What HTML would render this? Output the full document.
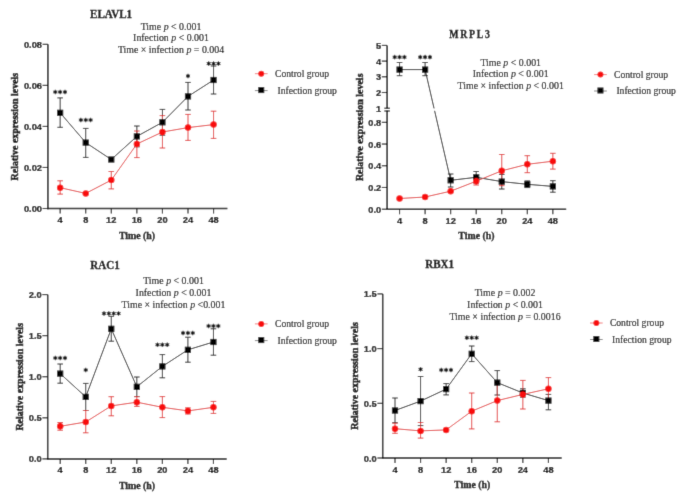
<!DOCTYPE html>
<html><head><meta charset="utf-8"><style>
html,body{margin:0;padding:0;background:#fff;}
svg{display:block;will-change:transform;}
</style></head><body>
<svg width="685" height="500" viewBox="0 0 685 500">
<defs><filter id="soft" x="0" y="0" width="685" height="500" filterUnits="userSpaceOnUse"><feConvolveMatrix order="3" kernelMatrix="0.011 0.084 0.011 0.084 0.62 0.084 0.011 0.084 0.011" divisor="1" edgeMode="duplicate" preserveAlpha="false"/></filter></defs>
<g filter="url(#soft)">
<rect width="685" height="500" fill="#fff"/>
<line x1="47.90" y1="44.30" x2="47.90" y2="209.25" stroke="#0a0a0a" stroke-width="1.5" />
<line x1="47.15" y1="208.50" x2="227.40" y2="208.50" stroke="#0a0a0a" stroke-width="1.5" />
<line x1="42.60" y1="208.50" x2="47.90" y2="208.50" stroke="#0a0a0a" stroke-width="1.1" />
<text transform="translate(42.00,212.00) scale(0.9490,1)" font-family="'Liberation Sans', sans-serif" font-size="9.8" font-weight="bold" text-anchor="end" fill="#000" stroke="#000" stroke-width="0.25">0.00</text>
<line x1="42.60" y1="167.45" x2="47.90" y2="167.45" stroke="#0a0a0a" stroke-width="1.1" />
<text transform="translate(42.00,170.95) scale(0.9490,1)" font-family="'Liberation Sans', sans-serif" font-size="9.8" font-weight="bold" text-anchor="end" fill="#000" stroke="#000" stroke-width="0.25">0.02</text>
<line x1="42.60" y1="126.40" x2="47.90" y2="126.40" stroke="#0a0a0a" stroke-width="1.1" />
<text transform="translate(42.00,129.90) scale(0.9490,1)" font-family="'Liberation Sans', sans-serif" font-size="9.8" font-weight="bold" text-anchor="end" fill="#000" stroke="#000" stroke-width="0.25">0.04</text>
<line x1="42.60" y1="85.35" x2="47.90" y2="85.35" stroke="#0a0a0a" stroke-width="1.1" />
<text transform="translate(42.00,88.85) scale(0.9490,1)" font-family="'Liberation Sans', sans-serif" font-size="9.8" font-weight="bold" text-anchor="end" fill="#000" stroke="#000" stroke-width="0.25">0.06</text>
<line x1="42.60" y1="44.30" x2="47.90" y2="44.30" stroke="#0a0a0a" stroke-width="1.1" />
<text transform="translate(42.00,47.80) scale(0.9490,1)" font-family="'Liberation Sans', sans-serif" font-size="9.8" font-weight="bold" text-anchor="end" fill="#000" stroke="#000" stroke-width="0.25">0.08</text>
<line x1="60.15" y1="208.50" x2="60.15" y2="213.50" stroke="#0a0a0a" stroke-width="1.1" />
<text transform="translate(60.15,223.00) scale(0.9490,1)" font-family="'Liberation Sans', sans-serif" font-size="9.8" font-weight="bold" text-anchor="middle" fill="#000" stroke="#000" stroke-width="0.25">4</text>
<line x1="85.72" y1="208.50" x2="85.72" y2="213.50" stroke="#0a0a0a" stroke-width="1.1" />
<text transform="translate(85.72,223.00) scale(0.9490,1)" font-family="'Liberation Sans', sans-serif" font-size="9.8" font-weight="bold" text-anchor="middle" fill="#000" stroke="#000" stroke-width="0.25">8</text>
<line x1="111.29" y1="208.50" x2="111.29" y2="213.50" stroke="#0a0a0a" stroke-width="1.1" />
<text transform="translate(111.29,223.00) scale(0.9490,1)" font-family="'Liberation Sans', sans-serif" font-size="9.8" font-weight="bold" text-anchor="middle" fill="#000" stroke="#000" stroke-width="0.25">12</text>
<line x1="136.86" y1="208.50" x2="136.86" y2="213.50" stroke="#0a0a0a" stroke-width="1.1" />
<text transform="translate(136.86,223.00) scale(0.9490,1)" font-family="'Liberation Sans', sans-serif" font-size="9.8" font-weight="bold" text-anchor="middle" fill="#000" stroke="#000" stroke-width="0.25">16</text>
<line x1="162.43" y1="208.50" x2="162.43" y2="213.50" stroke="#0a0a0a" stroke-width="1.1" />
<text transform="translate(162.43,223.00) scale(0.9490,1)" font-family="'Liberation Sans', sans-serif" font-size="9.8" font-weight="bold" text-anchor="middle" fill="#000" stroke="#000" stroke-width="0.25">20</text>
<line x1="188.00" y1="208.50" x2="188.00" y2="213.50" stroke="#0a0a0a" stroke-width="1.1" />
<text transform="translate(188.00,223.00) scale(0.9490,1)" font-family="'Liberation Sans', sans-serif" font-size="9.8" font-weight="bold" text-anchor="middle" fill="#000" stroke="#000" stroke-width="0.25">24</text>
<line x1="213.57" y1="208.50" x2="213.57" y2="213.50" stroke="#0a0a0a" stroke-width="1.1" />
<text transform="translate(213.57,223.00) scale(0.9490,1)" font-family="'Liberation Sans', sans-serif" font-size="9.8" font-weight="bold" text-anchor="middle" fill="#000" stroke="#000" stroke-width="0.25">48</text>
<text transform="translate(111.10,18.20) scale(0.8900,1.0000)" font-family="'Liberation Serif', serif" font-size="12.4" font-weight="bold" text-anchor="middle" fill="#000" stroke="#000" stroke-width="0.35" >ELAVL1</text>
<text transform="translate(171.00,29.70)" font-family="'Liberation Serif', serif" font-size="9.9" font-weight="normal" text-anchor="middle" fill="#000" stroke="#000" stroke-width="0.12" >Time <tspan font-style='italic'>p</tspan> &lt; 0.001</text>
<text transform="translate(171.00,40.70)" font-family="'Liberation Serif', serif" font-size="9.9" font-weight="normal" text-anchor="middle" fill="#000" stroke="#000" stroke-width="0.12" >Infection <tspan font-style='italic'>p</tspan> &lt; 0.001</text>
<text transform="translate(171.00,52.80)" font-family="'Liberation Serif', serif" font-size="9.9" font-weight="normal" text-anchor="middle" fill="#000" stroke="#000" stroke-width="0.12" >Time × infection <tspan font-style='italic'>p</tspan> = 0.004</text>
<text x="0" y="0" transform="translate(14.60,126.60) rotate(-90) scale(0.8980,1)" font-family="'Liberation Serif', serif" font-size="11.1" font-weight="bold" text-anchor="middle" dominant-baseline="central" fill="#000" stroke="#000" stroke-width="0.45">Relative expression levels</text>
<text transform="translate(137.00,238.80) scale(0.9650,1.0000)" font-family="'Liberation Serif', serif" font-size="10.2" font-weight="bold" text-anchor="middle" fill="#000" stroke="#000" stroke-width="0.3" >Time (h)</text>
<line x1="254.90" y1="73.70" x2="267.60" y2="73.70" stroke="#f07070" stroke-width="0.9" />
<circle cx="261.25" cy="73.70" r="3.0" fill="#f80a0a"/>
<text transform="translate(275.00,77.00)" font-family="'Liberation Serif', serif" font-size="9.6" font-weight="normal" text-anchor="start" fill="#000" stroke="#000" stroke-width="0.12" >Control group</text>
<line x1="254.90" y1="90.60" x2="267.60" y2="90.60" stroke="#777" stroke-width="0.9" />
<rect x="258.25" y="87.10" width="6.0" height="6.0" fill="#000"/>
<text transform="translate(277.50,93.90)" font-family="'Liberation Serif', serif" font-size="9.6" font-weight="normal" text-anchor="start" fill="#000" stroke="#000" stroke-width="0.12" >Infection group</text>
<line x1="60.15" y1="97.90" x2="60.15" y2="127.30" stroke="#2a2a2a" stroke-width="1.0" />
<line x1="57.35" y1="97.90" x2="62.95" y2="97.90" stroke="#2a2a2a" stroke-width="1.0" />
<line x1="57.35" y1="127.30" x2="62.95" y2="127.30" stroke="#2a2a2a" stroke-width="1.0" />
<line x1="85.72" y1="128.40" x2="85.72" y2="157.40" stroke="#2a2a2a" stroke-width="1.0" />
<line x1="82.92" y1="128.40" x2="88.52" y2="128.40" stroke="#2a2a2a" stroke-width="1.0" />
<line x1="82.92" y1="157.40" x2="88.52" y2="157.40" stroke="#2a2a2a" stroke-width="1.0" />
<line x1="136.86" y1="126.00" x2="136.86" y2="146.80" stroke="#2a2a2a" stroke-width="1.0" />
<line x1="134.06" y1="126.00" x2="139.66" y2="126.00" stroke="#2a2a2a" stroke-width="1.0" />
<line x1="134.06" y1="146.80" x2="139.66" y2="146.80" stroke="#2a2a2a" stroke-width="1.0" />
<line x1="162.43" y1="109.40" x2="162.43" y2="135.20" stroke="#2a2a2a" stroke-width="1.0" />
<line x1="159.63" y1="109.40" x2="165.23" y2="109.40" stroke="#2a2a2a" stroke-width="1.0" />
<line x1="159.63" y1="135.20" x2="165.23" y2="135.20" stroke="#2a2a2a" stroke-width="1.0" />
<line x1="188.00" y1="82.40" x2="188.00" y2="110.00" stroke="#2a2a2a" stroke-width="1.0" />
<line x1="185.20" y1="82.40" x2="190.80" y2="82.40" stroke="#2a2a2a" stroke-width="1.0" />
<line x1="185.20" y1="110.00" x2="190.80" y2="110.00" stroke="#2a2a2a" stroke-width="1.0" />
<line x1="213.57" y1="66.00" x2="213.57" y2="94.00" stroke="#2a2a2a" stroke-width="1.0" />
<line x1="210.77" y1="66.00" x2="216.37" y2="66.00" stroke="#2a2a2a" stroke-width="1.0" />
<line x1="210.77" y1="94.00" x2="216.37" y2="94.00" stroke="#2a2a2a" stroke-width="1.0" />
<polyline points="60.15,112.80 85.72,142.60 111.29,159.50 136.86,136.40 162.43,122.30 188.00,96.40 213.57,80.00" fill="none" stroke="#222" stroke-width="1.0"/>
<line x1="60.15" y1="180.80" x2="60.15" y2="194.10" stroke="#e02c2c" stroke-width="0.9" />
<line x1="57.35" y1="180.80" x2="62.95" y2="180.80" stroke="#e02c2c" stroke-width="0.9" />
<line x1="57.35" y1="194.10" x2="62.95" y2="194.10" stroke="#e02c2c" stroke-width="0.9" />
<line x1="111.29" y1="171.50" x2="111.29" y2="188.90" stroke="#e02c2c" stroke-width="0.9" />
<line x1="108.49" y1="171.50" x2="114.09" y2="171.50" stroke="#e02c2c" stroke-width="0.9" />
<line x1="108.49" y1="188.90" x2="114.09" y2="188.90" stroke="#e02c2c" stroke-width="0.9" />
<line x1="136.86" y1="131.00" x2="136.86" y2="157.60" stroke="#e02c2c" stroke-width="0.9" />
<line x1="134.06" y1="131.00" x2="139.66" y2="131.00" stroke="#e02c2c" stroke-width="0.9" />
<line x1="134.06" y1="157.60" x2="139.66" y2="157.60" stroke="#e02c2c" stroke-width="0.9" />
<line x1="162.43" y1="115.60" x2="162.43" y2="148.00" stroke="#e02c2c" stroke-width="0.9" />
<line x1="159.63" y1="115.60" x2="165.23" y2="115.60" stroke="#e02c2c" stroke-width="0.9" />
<line x1="159.63" y1="148.00" x2="165.23" y2="148.00" stroke="#e02c2c" stroke-width="0.9" />
<line x1="188.00" y1="114.40" x2="188.00" y2="140.40" stroke="#e02c2c" stroke-width="0.9" />
<line x1="185.20" y1="114.40" x2="190.80" y2="114.40" stroke="#e02c2c" stroke-width="0.9" />
<line x1="185.20" y1="140.40" x2="190.80" y2="140.40" stroke="#e02c2c" stroke-width="0.9" />
<line x1="213.57" y1="111.20" x2="213.57" y2="138.40" stroke="#e02c2c" stroke-width="0.9" />
<line x1="210.77" y1="111.20" x2="216.37" y2="111.20" stroke="#e02c2c" stroke-width="0.9" />
<line x1="210.77" y1="138.40" x2="216.37" y2="138.40" stroke="#e02c2c" stroke-width="0.9" />
<polyline points="60.15,187.70 85.72,193.40 111.29,180.10 136.86,144.00 162.43,132.00 188.00,127.60 213.57,124.60" fill="none" stroke="#e02c2c" stroke-width="0.9"/>
<rect x="57.05" y="109.70" width="6.2" height="6.2" fill="#000"/>
<rect x="82.62" y="139.50" width="6.2" height="6.2" fill="#000"/>
<rect x="108.19" y="156.40" width="6.2" height="6.2" fill="#000"/>
<rect x="133.76" y="133.30" width="6.2" height="6.2" fill="#000"/>
<rect x="159.33" y="119.20" width="6.2" height="6.2" fill="#000"/>
<rect x="184.90" y="93.30" width="6.2" height="6.2" fill="#000"/>
<rect x="210.47" y="76.90" width="6.2" height="6.2" fill="#000"/>
<circle cx="60.15" cy="187.70" r="3.25" fill="#f80a0a"/>
<circle cx="85.72" cy="193.40" r="3.25" fill="#f80a0a"/>
<circle cx="111.29" cy="180.10" r="3.25" fill="#f80a0a"/>
<circle cx="136.86" cy="144.00" r="3.25" fill="#f80a0a"/>
<circle cx="162.43" cy="132.00" r="3.25" fill="#f80a0a"/>
<circle cx="188.00" cy="127.60" r="3.25" fill="#f80a0a"/>
<circle cx="213.57" cy="124.60" r="3.25" fill="#f80a0a"/>
<polygon points="55.30,89.75 55.90,90.96 57.25,90.88 56.50,92.00 57.25,93.12 55.90,93.04 55.30,94.25 54.70,93.04 53.35,93.12 54.10,92.00 53.35,90.88 54.70,90.96" fill="#111" stroke="#111" stroke-width="0.5" stroke-linejoin="round"/>
<polygon points="60.15,89.75 60.75,90.96 62.10,90.88 61.35,92.00 62.10,93.12 60.75,93.04 60.15,94.25 59.55,93.04 58.20,93.12 58.95,92.00 58.20,90.88 59.55,90.96" fill="#111" stroke="#111" stroke-width="0.5" stroke-linejoin="round"/>
<polygon points="65.00,89.75 65.60,90.96 66.95,90.88 66.20,92.00 66.95,93.12 65.60,93.04 65.00,94.25 64.40,93.04 63.05,93.12 63.80,92.00 63.05,90.88 64.40,90.96" fill="#111" stroke="#111" stroke-width="0.5" stroke-linejoin="round"/>
<polygon points="80.87,117.75 81.47,118.96 82.82,118.88 82.07,120.00 82.82,121.12 81.47,121.04 80.87,122.25 80.27,121.04 78.92,121.12 79.67,120.00 78.92,118.88 80.27,118.96" fill="#111" stroke="#111" stroke-width="0.5" stroke-linejoin="round"/>
<polygon points="85.72,117.75 86.32,118.96 87.67,118.88 86.92,120.00 87.67,121.12 86.32,121.04 85.72,122.25 85.12,121.04 83.77,121.12 84.52,120.00 83.77,118.88 85.12,118.96" fill="#111" stroke="#111" stroke-width="0.5" stroke-linejoin="round"/>
<polygon points="90.57,117.75 91.17,118.96 92.52,118.88 91.77,120.00 92.52,121.12 91.17,121.04 90.57,122.25 89.97,121.04 88.62,121.12 89.37,120.00 88.62,118.88 89.97,118.96" fill="#111" stroke="#111" stroke-width="0.5" stroke-linejoin="round"/>
<polygon points="188.00,73.75 188.60,74.96 189.95,74.88 189.20,76.00 189.95,77.12 188.60,77.04 188.00,78.25 187.40,77.04 186.05,77.12 186.80,76.00 186.05,74.88 187.40,74.96" fill="#111" stroke="#111" stroke-width="0.5" stroke-linejoin="round"/>
<polygon points="208.72,61.35 209.32,62.56 210.67,62.48 209.92,63.60 210.67,64.72 209.32,64.64 208.72,65.85 208.12,64.64 206.77,64.72 207.52,63.60 206.77,62.48 208.12,62.56" fill="#111" stroke="#111" stroke-width="0.5" stroke-linejoin="round"/>
<polygon points="213.57,61.35 214.17,62.56 215.52,62.48 214.77,63.60 215.52,64.72 214.17,64.64 213.57,65.85 212.97,64.64 211.62,64.72 212.37,63.60 211.62,62.48 212.97,62.56" fill="#111" stroke="#111" stroke-width="0.5" stroke-linejoin="round"/>
<polygon points="218.42,61.35 219.02,62.56 220.37,62.48 219.62,63.60 220.37,64.72 219.02,64.64 218.42,65.85 217.82,64.64 216.47,64.72 217.22,63.60 216.47,62.48 217.82,62.56" fill="#111" stroke="#111" stroke-width="0.5" stroke-linejoin="round"/>
<line x1="387.10" y1="45.40" x2="387.10" y2="209.95" stroke="#0a0a0a" stroke-width="1.5" />
<line x1="386.35" y1="209.20" x2="566.20" y2="209.20" stroke="#0a0a0a" stroke-width="1.5" />
<line x1="381.80" y1="209.20" x2="387.10" y2="209.20" stroke="#0a0a0a" stroke-width="1.1" />
<text transform="translate(381.20,212.70) scale(0.9490,1)" font-family="'Liberation Sans', sans-serif" font-size="9.8" font-weight="bold" text-anchor="end" fill="#000" stroke="#000" stroke-width="0.25">0.0</text>
<line x1="381.80" y1="187.48" x2="387.10" y2="187.48" stroke="#0a0a0a" stroke-width="1.1" />
<text transform="translate(381.20,190.98) scale(0.9490,1)" font-family="'Liberation Sans', sans-serif" font-size="9.8" font-weight="bold" text-anchor="end" fill="#000" stroke="#000" stroke-width="0.25">0.2</text>
<line x1="381.80" y1="165.76" x2="387.10" y2="165.76" stroke="#0a0a0a" stroke-width="1.1" />
<text transform="translate(381.20,169.26) scale(0.9490,1)" font-family="'Liberation Sans', sans-serif" font-size="9.8" font-weight="bold" text-anchor="end" fill="#000" stroke="#000" stroke-width="0.25">0.4</text>
<line x1="381.80" y1="144.04" x2="387.10" y2="144.04" stroke="#0a0a0a" stroke-width="1.1" />
<text transform="translate(381.20,147.54) scale(0.9490,1)" font-family="'Liberation Sans', sans-serif" font-size="9.8" font-weight="bold" text-anchor="end" fill="#000" stroke="#000" stroke-width="0.25">0.6</text>
<line x1="381.80" y1="122.32" x2="387.10" y2="122.32" stroke="#0a0a0a" stroke-width="1.1" />
<text transform="translate(381.20,125.82) scale(0.9490,1)" font-family="'Liberation Sans', sans-serif" font-size="9.8" font-weight="bold" text-anchor="end" fill="#000" stroke="#000" stroke-width="0.25">0.8</text>
<line x1="381.80" y1="45.40" x2="387.10" y2="45.40" stroke="#0a0a0a" stroke-width="1.1" />
<text transform="translate(381.20,48.90) scale(0.9490,1)" font-family="'Liberation Sans', sans-serif" font-size="9.8" font-weight="bold" text-anchor="end" fill="#000" stroke="#000" stroke-width="0.25">5</text>
<line x1="381.80" y1="61.10" x2="387.10" y2="61.10" stroke="#0a0a0a" stroke-width="1.1" />
<text transform="translate(381.20,64.60) scale(0.9490,1)" font-family="'Liberation Sans', sans-serif" font-size="9.8" font-weight="bold" text-anchor="end" fill="#000" stroke="#000" stroke-width="0.25">4</text>
<line x1="381.80" y1="76.80" x2="387.10" y2="76.80" stroke="#0a0a0a" stroke-width="1.1" />
<text transform="translate(381.20,80.30) scale(0.9490,1)" font-family="'Liberation Sans', sans-serif" font-size="9.8" font-weight="bold" text-anchor="end" fill="#000" stroke="#000" stroke-width="0.25">3</text>
<line x1="381.80" y1="92.50" x2="387.10" y2="92.50" stroke="#0a0a0a" stroke-width="1.1" />
<text transform="translate(381.20,96.00) scale(0.9490,1)" font-family="'Liberation Sans', sans-serif" font-size="9.8" font-weight="bold" text-anchor="end" fill="#000" stroke="#000" stroke-width="0.25">2</text>
<line x1="399.55" y1="209.20" x2="399.55" y2="214.20" stroke="#0a0a0a" stroke-width="1.1" />
<text transform="translate(399.55,223.70) scale(0.9490,1)" font-family="'Liberation Sans', sans-serif" font-size="9.8" font-weight="bold" text-anchor="middle" fill="#000" stroke="#000" stroke-width="0.25">4</text>
<line x1="425.10" y1="209.20" x2="425.10" y2="214.20" stroke="#0a0a0a" stroke-width="1.1" />
<text transform="translate(425.10,223.70) scale(0.9490,1)" font-family="'Liberation Sans', sans-serif" font-size="9.8" font-weight="bold" text-anchor="middle" fill="#000" stroke="#000" stroke-width="0.25">8</text>
<line x1="450.65" y1="209.20" x2="450.65" y2="214.20" stroke="#0a0a0a" stroke-width="1.1" />
<text transform="translate(450.65,223.70) scale(0.9490,1)" font-family="'Liberation Sans', sans-serif" font-size="9.8" font-weight="bold" text-anchor="middle" fill="#000" stroke="#000" stroke-width="0.25">12</text>
<line x1="476.20" y1="209.20" x2="476.20" y2="214.20" stroke="#0a0a0a" stroke-width="1.1" />
<text transform="translate(476.20,223.70) scale(0.9490,1)" font-family="'Liberation Sans', sans-serif" font-size="9.8" font-weight="bold" text-anchor="middle" fill="#000" stroke="#000" stroke-width="0.25">16</text>
<line x1="501.75" y1="209.20" x2="501.75" y2="214.20" stroke="#0a0a0a" stroke-width="1.1" />
<text transform="translate(501.75,223.70) scale(0.9490,1)" font-family="'Liberation Sans', sans-serif" font-size="9.8" font-weight="bold" text-anchor="middle" fill="#000" stroke="#000" stroke-width="0.25">20</text>
<line x1="527.30" y1="209.20" x2="527.30" y2="214.20" stroke="#0a0a0a" stroke-width="1.1" />
<text transform="translate(527.30,223.70) scale(0.9490,1)" font-family="'Liberation Sans', sans-serif" font-size="9.8" font-weight="bold" text-anchor="middle" fill="#000" stroke="#000" stroke-width="0.25">24</text>
<line x1="552.85" y1="209.20" x2="552.85" y2="214.20" stroke="#0a0a0a" stroke-width="1.1" />
<text transform="translate(552.85,223.70) scale(0.9490,1)" font-family="'Liberation Sans', sans-serif" font-size="9.8" font-weight="bold" text-anchor="middle" fill="#000" stroke="#000" stroke-width="0.25">48</text>
<text transform="translate(470.40,37.60) scale(0.8200,1.0000)" font-family="'Liberation Serif', serif" font-size="12.0" font-weight="bold" text-anchor="middle" fill="#000" stroke="#000" stroke-width="0.35" letter-spacing="2.0">MRPL3</text>
<text transform="translate(510.70,66.10)" font-family="'Liberation Serif', serif" font-size="9.9" font-weight="normal" text-anchor="middle" fill="#000" stroke="#000" stroke-width="0.12" >Time <tspan font-style='italic'>p</tspan> &lt; 0.001</text>
<text transform="translate(510.70,77.00)" font-family="'Liberation Serif', serif" font-size="9.9" font-weight="normal" text-anchor="middle" fill="#000" stroke="#000" stroke-width="0.12" >Infection <tspan font-style='italic'>p</tspan> &lt; 0.001</text>
<text transform="translate(510.70,89.40)" font-family="'Liberation Serif', serif" font-size="9.9" font-weight="normal" text-anchor="middle" fill="#000" stroke="#000" stroke-width="0.12" >Time × infection <tspan font-style='italic'>p</tspan> &lt; 0.001</text>
<text x="0" y="0" transform="translate(358.90,127.30) rotate(-90) scale(0.8980,1)" font-family="'Liberation Serif', serif" font-size="11.1" font-weight="bold" text-anchor="middle" dominant-baseline="central" fill="#000" stroke="#000" stroke-width="0.45">Relative expression levels</text>
<text transform="translate(476.40,239.00) scale(0.9650,1.0000)" font-family="'Liberation Serif', serif" font-size="10.2" font-weight="bold" text-anchor="middle" fill="#000" stroke="#000" stroke-width="0.3" >Time (h)</text>
<line x1="594.10" y1="74.60" x2="606.80" y2="74.60" stroke="#f07070" stroke-width="0.9" />
<circle cx="600.45" cy="74.60" r="3.0" fill="#f80a0a"/>
<text transform="translate(614.00,77.90)" font-family="'Liberation Serif', serif" font-size="9.6" font-weight="normal" text-anchor="start" fill="#000" stroke="#000" stroke-width="0.12" >Control group</text>
<line x1="594.10" y1="91.00" x2="606.80" y2="91.00" stroke="#777" stroke-width="0.9" />
<rect x="597.45" y="87.50" width="6.0" height="6.0" fill="#000"/>
<text transform="translate(616.40,94.30)" font-family="'Liberation Serif', serif" font-size="9.6" font-weight="normal" text-anchor="start" fill="#000" stroke="#000" stroke-width="0.12" >Infection group</text>
<line x1="399.55" y1="62.50" x2="399.55" y2="75.70" stroke="#2a2a2a" stroke-width="1.0" />
<line x1="396.75" y1="62.50" x2="402.35" y2="62.50" stroke="#2a2a2a" stroke-width="1.0" />
<line x1="396.75" y1="75.70" x2="402.35" y2="75.70" stroke="#2a2a2a" stroke-width="1.0" />
<line x1="425.10" y1="62.50" x2="425.10" y2="75.70" stroke="#2a2a2a" stroke-width="1.0" />
<line x1="422.30" y1="62.50" x2="427.90" y2="62.50" stroke="#2a2a2a" stroke-width="1.0" />
<line x1="422.30" y1="75.70" x2="427.90" y2="75.70" stroke="#2a2a2a" stroke-width="1.0" />
<line x1="450.65" y1="174.00" x2="450.65" y2="187.00" stroke="#2a2a2a" stroke-width="1.0" />
<line x1="447.85" y1="174.00" x2="453.45" y2="174.00" stroke="#2a2a2a" stroke-width="1.0" />
<line x1="447.85" y1="187.00" x2="453.45" y2="187.00" stroke="#2a2a2a" stroke-width="1.0" />
<line x1="476.20" y1="171.50" x2="476.20" y2="183.00" stroke="#2a2a2a" stroke-width="1.0" />
<line x1="473.40" y1="171.50" x2="479.00" y2="171.50" stroke="#2a2a2a" stroke-width="1.0" />
<line x1="473.40" y1="183.00" x2="479.00" y2="183.00" stroke="#2a2a2a" stroke-width="1.0" />
<line x1="501.75" y1="174.40" x2="501.75" y2="189.00" stroke="#2a2a2a" stroke-width="1.0" />
<line x1="498.95" y1="174.40" x2="504.55" y2="174.40" stroke="#2a2a2a" stroke-width="1.0" />
<line x1="498.95" y1="189.00" x2="504.55" y2="189.00" stroke="#2a2a2a" stroke-width="1.0" />
<line x1="527.30" y1="180.90" x2="527.30" y2="187.60" stroke="#2a2a2a" stroke-width="1.0" />
<line x1="524.50" y1="180.90" x2="530.10" y2="180.90" stroke="#2a2a2a" stroke-width="1.0" />
<line x1="524.50" y1="187.60" x2="530.10" y2="187.60" stroke="#2a2a2a" stroke-width="1.0" />
<line x1="552.85" y1="180.70" x2="552.85" y2="192.20" stroke="#2a2a2a" stroke-width="1.0" />
<line x1="550.05" y1="180.70" x2="555.65" y2="180.70" stroke="#2a2a2a" stroke-width="1.0" />
<line x1="550.05" y1="192.20" x2="555.65" y2="192.20" stroke="#2a2a2a" stroke-width="1.0" />
<polyline points="399.55,69.60 425.10,69.60 450.65,180.30 476.20,177.30 501.75,181.60 527.30,184.30 552.85,186.40" fill="none" stroke="#222" stroke-width="1.0"/>
<line x1="476.20" y1="177.50" x2="476.20" y2="185.00" stroke="#e02c2c" stroke-width="0.9" />
<line x1="473.40" y1="177.50" x2="479.00" y2="177.50" stroke="#e02c2c" stroke-width="0.9" />
<line x1="473.40" y1="185.00" x2="479.00" y2="185.00" stroke="#e02c2c" stroke-width="0.9" />
<line x1="501.75" y1="154.50" x2="501.75" y2="185.70" stroke="#e02c2c" stroke-width="0.9" />
<line x1="498.95" y1="154.50" x2="504.55" y2="154.50" stroke="#e02c2c" stroke-width="0.9" />
<line x1="498.95" y1="185.70" x2="504.55" y2="185.70" stroke="#e02c2c" stroke-width="0.9" />
<line x1="527.30" y1="155.70" x2="527.30" y2="172.70" stroke="#e02c2c" stroke-width="0.9" />
<line x1="524.50" y1="155.70" x2="530.10" y2="155.70" stroke="#e02c2c" stroke-width="0.9" />
<line x1="524.50" y1="172.70" x2="530.10" y2="172.70" stroke="#e02c2c" stroke-width="0.9" />
<line x1="552.85" y1="153.30" x2="552.85" y2="169.10" stroke="#e02c2c" stroke-width="0.9" />
<line x1="550.05" y1="153.30" x2="555.65" y2="153.30" stroke="#e02c2c" stroke-width="0.9" />
<line x1="550.05" y1="169.10" x2="555.65" y2="169.10" stroke="#e02c2c" stroke-width="0.9" />
<polyline points="399.55,198.50 425.10,197.00 450.65,191.20 476.20,181.20 501.75,170.80 527.30,164.30 552.85,161.20" fill="none" stroke="#e02c2c" stroke-width="0.9"/>
<rect x="396.45" y="66.50" width="6.2" height="6.2" fill="#000"/>
<rect x="422.00" y="66.50" width="6.2" height="6.2" fill="#000"/>
<rect x="447.55" y="177.20" width="6.2" height="6.2" fill="#000"/>
<rect x="473.10" y="174.20" width="6.2" height="6.2" fill="#000"/>
<rect x="498.65" y="178.50" width="6.2" height="6.2" fill="#000"/>
<rect x="524.20" y="181.20" width="6.2" height="6.2" fill="#000"/>
<rect x="549.75" y="183.30" width="6.2" height="6.2" fill="#000"/>
<circle cx="399.55" cy="198.50" r="3.25" fill="#f80a0a"/>
<circle cx="425.10" cy="197.00" r="3.25" fill="#f80a0a"/>
<circle cx="450.65" cy="191.20" r="3.25" fill="#f80a0a"/>
<circle cx="476.20" cy="181.20" r="3.25" fill="#f80a0a"/>
<circle cx="501.75" cy="170.80" r="3.25" fill="#f80a0a"/>
<circle cx="527.30" cy="164.30" r="3.25" fill="#f80a0a"/>
<circle cx="552.85" cy="161.20" r="3.25" fill="#f80a0a"/>
<polygon points="394.70,54.85 395.30,56.06 396.65,55.98 395.90,57.10 396.65,58.23 395.30,58.14 394.70,59.35 394.10,58.14 392.75,58.23 393.50,57.10 392.75,55.98 394.10,56.06" fill="#111" stroke="#111" stroke-width="0.5" stroke-linejoin="round"/>
<polygon points="399.55,54.85 400.15,56.06 401.50,55.98 400.75,57.10 401.50,58.23 400.15,58.14 399.55,59.35 398.95,58.14 397.60,58.23 398.35,57.10 397.60,55.98 398.95,56.06" fill="#111" stroke="#111" stroke-width="0.5" stroke-linejoin="round"/>
<polygon points="404.40,54.85 405.00,56.06 406.35,55.98 405.60,57.10 406.35,58.23 405.00,58.14 404.40,59.35 403.80,58.14 402.45,58.23 403.20,57.10 402.45,55.98 403.80,56.06" fill="#111" stroke="#111" stroke-width="0.5" stroke-linejoin="round"/>
<polygon points="420.25,54.85 420.85,56.06 422.20,55.98 421.45,57.10 422.20,58.23 420.85,58.14 420.25,59.35 419.65,58.14 418.30,58.23 419.05,57.10 418.30,55.98 419.65,56.06" fill="#111" stroke="#111" stroke-width="0.5" stroke-linejoin="round"/>
<polygon points="425.10,54.85 425.70,56.06 427.05,55.98 426.30,57.10 427.05,58.23 425.70,58.14 425.10,59.35 424.50,58.14 423.15,58.23 423.90,57.10 423.15,55.98 424.50,56.06" fill="#111" stroke="#111" stroke-width="0.5" stroke-linejoin="round"/>
<polygon points="429.95,54.85 430.55,56.06 431.90,55.98 431.15,57.10 431.90,58.23 430.55,58.14 429.95,59.35 429.35,58.14 428.00,58.23 428.75,57.10 428.00,55.98 429.35,56.06" fill="#111" stroke="#111" stroke-width="0.5" stroke-linejoin="round"/>
<line x1="47.70" y1="294.60" x2="47.70" y2="459.65" stroke="#0a0a0a" stroke-width="1.5" />
<line x1="46.95" y1="458.90" x2="226.70" y2="458.90" stroke="#0a0a0a" stroke-width="1.5" />
<line x1="42.40" y1="458.90" x2="47.70" y2="458.90" stroke="#0a0a0a" stroke-width="1.1" />
<text transform="translate(41.80,462.40) scale(0.9490,1)" font-family="'Liberation Sans', sans-serif" font-size="9.8" font-weight="bold" text-anchor="end" fill="#000" stroke="#000" stroke-width="0.25">0.0</text>
<line x1="42.40" y1="417.82" x2="47.70" y2="417.82" stroke="#0a0a0a" stroke-width="1.1" />
<text transform="translate(41.80,421.32) scale(0.9490,1)" font-family="'Liberation Sans', sans-serif" font-size="9.8" font-weight="bold" text-anchor="end" fill="#000" stroke="#000" stroke-width="0.25">0.5</text>
<line x1="42.40" y1="376.75" x2="47.70" y2="376.75" stroke="#0a0a0a" stroke-width="1.1" />
<text transform="translate(41.80,380.25) scale(0.9490,1)" font-family="'Liberation Sans', sans-serif" font-size="9.8" font-weight="bold" text-anchor="end" fill="#000" stroke="#000" stroke-width="0.25">1.0</text>
<line x1="42.40" y1="335.67" x2="47.70" y2="335.67" stroke="#0a0a0a" stroke-width="1.1" />
<text transform="translate(41.80,339.17) scale(0.9490,1)" font-family="'Liberation Sans', sans-serif" font-size="9.8" font-weight="bold" text-anchor="end" fill="#000" stroke="#000" stroke-width="0.25">1.5</text>
<line x1="42.40" y1="294.60" x2="47.70" y2="294.60" stroke="#0a0a0a" stroke-width="1.1" />
<text transform="translate(41.80,298.10) scale(0.9490,1)" font-family="'Liberation Sans', sans-serif" font-size="9.8" font-weight="bold" text-anchor="end" fill="#000" stroke="#000" stroke-width="0.25">2.0</text>
<line x1="60.20" y1="458.90" x2="60.20" y2="463.90" stroke="#0a0a0a" stroke-width="1.1" />
<text transform="translate(60.20,473.40) scale(0.9490,1)" font-family="'Liberation Sans', sans-serif" font-size="9.8" font-weight="bold" text-anchor="middle" fill="#000" stroke="#000" stroke-width="0.25">4</text>
<line x1="85.74" y1="458.90" x2="85.74" y2="463.90" stroke="#0a0a0a" stroke-width="1.1" />
<text transform="translate(85.74,473.40) scale(0.9490,1)" font-family="'Liberation Sans', sans-serif" font-size="9.8" font-weight="bold" text-anchor="middle" fill="#000" stroke="#000" stroke-width="0.25">8</text>
<line x1="111.28" y1="458.90" x2="111.28" y2="463.90" stroke="#0a0a0a" stroke-width="1.1" />
<text transform="translate(111.28,473.40) scale(0.9490,1)" font-family="'Liberation Sans', sans-serif" font-size="9.8" font-weight="bold" text-anchor="middle" fill="#000" stroke="#000" stroke-width="0.25">12</text>
<line x1="136.82" y1="458.90" x2="136.82" y2="463.90" stroke="#0a0a0a" stroke-width="1.1" />
<text transform="translate(136.82,473.40) scale(0.9490,1)" font-family="'Liberation Sans', sans-serif" font-size="9.8" font-weight="bold" text-anchor="middle" fill="#000" stroke="#000" stroke-width="0.25">16</text>
<line x1="162.36" y1="458.90" x2="162.36" y2="463.90" stroke="#0a0a0a" stroke-width="1.1" />
<text transform="translate(162.36,473.40) scale(0.9490,1)" font-family="'Liberation Sans', sans-serif" font-size="9.8" font-weight="bold" text-anchor="middle" fill="#000" stroke="#000" stroke-width="0.25">20</text>
<line x1="187.90" y1="458.90" x2="187.90" y2="463.90" stroke="#0a0a0a" stroke-width="1.1" />
<text transform="translate(187.90,473.40) scale(0.9490,1)" font-family="'Liberation Sans', sans-serif" font-size="9.8" font-weight="bold" text-anchor="middle" fill="#000" stroke="#000" stroke-width="0.25">24</text>
<line x1="213.44" y1="458.90" x2="213.44" y2="463.90" stroke="#0a0a0a" stroke-width="1.1" />
<text transform="translate(213.44,473.40) scale(0.9490,1)" font-family="'Liberation Sans', sans-serif" font-size="9.8" font-weight="bold" text-anchor="middle" fill="#000" stroke="#000" stroke-width="0.25">48</text>
<text transform="translate(105.00,268.70) scale(0.8900,1.0000)" font-family="'Liberation Serif', serif" font-size="12.4" font-weight="bold" text-anchor="middle" fill="#000" stroke="#000" stroke-width="0.35" >RAC1</text>
<text transform="translate(173.50,284.10)" font-family="'Liberation Serif', serif" font-size="9.9" font-weight="normal" text-anchor="middle" fill="#000" stroke="#000" stroke-width="0.12" >Time <tspan font-style='italic'>p</tspan> &lt; 0.001</text>
<text transform="translate(173.50,295.80)" font-family="'Liberation Serif', serif" font-size="9.9" font-weight="normal" text-anchor="middle" fill="#000" stroke="#000" stroke-width="0.12" >Infection <tspan font-style='italic'>p</tspan> &lt; 0.001</text>
<text transform="translate(173.50,308.20)" font-family="'Liberation Serif', serif" font-size="9.9" font-weight="normal" text-anchor="middle" fill="#000" stroke="#000" stroke-width="0.12" >Time × infection <tspan font-style='italic'>p</tspan> &lt;0.001</text>
<text x="0" y="0" transform="translate(19.60,376.80) rotate(-90) scale(0.8980,1)" font-family="'Liberation Serif', serif" font-size="11.1" font-weight="bold" text-anchor="middle" dominant-baseline="central" fill="#000" stroke="#000" stroke-width="0.45">Relative expression levels</text>
<text transform="translate(137.00,489.10) scale(0.9650,1.0000)" font-family="'Liberation Serif', serif" font-size="10.2" font-weight="bold" text-anchor="middle" fill="#000" stroke="#000" stroke-width="0.3" >Time (h)</text>
<line x1="254.90" y1="323.90" x2="267.60" y2="323.90" stroke="#f07070" stroke-width="0.9" />
<circle cx="261.25" cy="323.90" r="3.0" fill="#f80a0a"/>
<text transform="translate(275.00,327.20)" font-family="'Liberation Serif', serif" font-size="9.6" font-weight="normal" text-anchor="start" fill="#000" stroke="#000" stroke-width="0.12" >Control group</text>
<line x1="254.90" y1="340.60" x2="267.60" y2="340.60" stroke="#777" stroke-width="0.9" />
<rect x="258.25" y="337.10" width="6.0" height="6.0" fill="#000"/>
<text transform="translate(277.50,343.90)" font-family="'Liberation Serif', serif" font-size="9.6" font-weight="normal" text-anchor="start" fill="#000" stroke="#000" stroke-width="0.12" >Infection group</text>
<line x1="60.20" y1="364.00" x2="60.20" y2="383.20" stroke="#2a2a2a" stroke-width="1.0" />
<line x1="57.40" y1="364.00" x2="63.00" y2="364.00" stroke="#2a2a2a" stroke-width="1.0" />
<line x1="57.40" y1="383.20" x2="63.00" y2="383.20" stroke="#2a2a2a" stroke-width="1.0" />
<line x1="85.74" y1="383.40" x2="85.74" y2="410.50" stroke="#2a2a2a" stroke-width="1.0" />
<line x1="82.94" y1="383.40" x2="88.54" y2="383.40" stroke="#2a2a2a" stroke-width="1.0" />
<line x1="82.94" y1="410.50" x2="88.54" y2="410.50" stroke="#2a2a2a" stroke-width="1.0" />
<line x1="111.28" y1="316.30" x2="111.28" y2="341.20" stroke="#2a2a2a" stroke-width="1.0" />
<line x1="108.48" y1="316.30" x2="114.08" y2="316.30" stroke="#2a2a2a" stroke-width="1.0" />
<line x1="108.48" y1="341.20" x2="114.08" y2="341.20" stroke="#2a2a2a" stroke-width="1.0" />
<line x1="136.82" y1="377.00" x2="136.82" y2="396.60" stroke="#2a2a2a" stroke-width="1.0" />
<line x1="134.02" y1="377.00" x2="139.62" y2="377.00" stroke="#2a2a2a" stroke-width="1.0" />
<line x1="134.02" y1="396.60" x2="139.62" y2="396.60" stroke="#2a2a2a" stroke-width="1.0" />
<line x1="162.36" y1="354.60" x2="162.36" y2="377.80" stroke="#2a2a2a" stroke-width="1.0" />
<line x1="159.56" y1="354.60" x2="165.16" y2="354.60" stroke="#2a2a2a" stroke-width="1.0" />
<line x1="159.56" y1="377.80" x2="165.16" y2="377.80" stroke="#2a2a2a" stroke-width="1.0" />
<line x1="187.90" y1="337.20" x2="187.90" y2="362.20" stroke="#2a2a2a" stroke-width="1.0" />
<line x1="185.10" y1="337.20" x2="190.70" y2="337.20" stroke="#2a2a2a" stroke-width="1.0" />
<line x1="185.10" y1="362.20" x2="190.70" y2="362.20" stroke="#2a2a2a" stroke-width="1.0" />
<line x1="213.44" y1="328.80" x2="213.44" y2="355.20" stroke="#2a2a2a" stroke-width="1.0" />
<line x1="210.64" y1="328.80" x2="216.24" y2="328.80" stroke="#2a2a2a" stroke-width="1.0" />
<line x1="210.64" y1="355.20" x2="216.24" y2="355.20" stroke="#2a2a2a" stroke-width="1.0" />
<polyline points="60.20,373.60 85.74,396.90 111.28,328.80 136.82,386.80 162.36,366.40 187.90,349.80 213.44,342.00" fill="none" stroke="#222" stroke-width="1.0"/>
<line x1="60.20" y1="422.50" x2="60.20" y2="430.20" stroke="#e02c2c" stroke-width="0.9" />
<line x1="57.40" y1="422.50" x2="63.00" y2="422.50" stroke="#e02c2c" stroke-width="0.9" />
<line x1="57.40" y1="430.20" x2="63.00" y2="430.20" stroke="#e02c2c" stroke-width="0.9" />
<line x1="85.74" y1="410.50" x2="85.74" y2="432.80" stroke="#e02c2c" stroke-width="0.9" />
<line x1="82.94" y1="410.50" x2="88.54" y2="410.50" stroke="#e02c2c" stroke-width="0.9" />
<line x1="82.94" y1="432.80" x2="88.54" y2="432.80" stroke="#e02c2c" stroke-width="0.9" />
<line x1="111.28" y1="396.70" x2="111.28" y2="415.80" stroke="#e02c2c" stroke-width="0.9" />
<line x1="108.48" y1="396.70" x2="114.08" y2="396.70" stroke="#e02c2c" stroke-width="0.9" />
<line x1="108.48" y1="415.80" x2="114.08" y2="415.80" stroke="#e02c2c" stroke-width="0.9" />
<line x1="136.82" y1="396.60" x2="136.82" y2="406.40" stroke="#e02c2c" stroke-width="0.9" />
<line x1="134.02" y1="396.60" x2="139.62" y2="396.60" stroke="#e02c2c" stroke-width="0.9" />
<line x1="134.02" y1="406.40" x2="139.62" y2="406.40" stroke="#e02c2c" stroke-width="0.9" />
<line x1="162.36" y1="396.60" x2="162.36" y2="417.60" stroke="#e02c2c" stroke-width="0.9" />
<line x1="159.56" y1="396.60" x2="165.16" y2="396.60" stroke="#e02c2c" stroke-width="0.9" />
<line x1="159.56" y1="417.60" x2="165.16" y2="417.60" stroke="#e02c2c" stroke-width="0.9" />
<line x1="187.90" y1="407.80" x2="187.90" y2="414.00" stroke="#e02c2c" stroke-width="0.9" />
<line x1="185.10" y1="407.80" x2="190.70" y2="407.80" stroke="#e02c2c" stroke-width="0.9" />
<line x1="185.10" y1="414.00" x2="190.70" y2="414.00" stroke="#e02c2c" stroke-width="0.9" />
<line x1="213.44" y1="401.40" x2="213.44" y2="413.40" stroke="#e02c2c" stroke-width="0.9" />
<line x1="210.64" y1="401.40" x2="216.24" y2="401.40" stroke="#e02c2c" stroke-width="0.9" />
<line x1="210.64" y1="413.40" x2="216.24" y2="413.40" stroke="#e02c2c" stroke-width="0.9" />
<polyline points="60.20,426.30 85.74,422.00 111.28,405.90 136.82,402.20 162.36,407.30 187.90,410.90 213.44,407.30" fill="none" stroke="#e02c2c" stroke-width="0.9"/>
<rect x="57.10" y="370.50" width="6.2" height="6.2" fill="#000"/>
<rect x="82.64" y="393.80" width="6.2" height="6.2" fill="#000"/>
<rect x="108.18" y="325.70" width="6.2" height="6.2" fill="#000"/>
<rect x="133.72" y="383.70" width="6.2" height="6.2" fill="#000"/>
<rect x="159.26" y="363.30" width="6.2" height="6.2" fill="#000"/>
<rect x="184.80" y="346.70" width="6.2" height="6.2" fill="#000"/>
<rect x="210.34" y="338.90" width="6.2" height="6.2" fill="#000"/>
<circle cx="60.20" cy="426.30" r="3.25" fill="#f80a0a"/>
<circle cx="85.74" cy="422.00" r="3.25" fill="#f80a0a"/>
<circle cx="111.28" cy="405.90" r="3.25" fill="#f80a0a"/>
<circle cx="136.82" cy="402.20" r="3.25" fill="#f80a0a"/>
<circle cx="162.36" cy="407.30" r="3.25" fill="#f80a0a"/>
<circle cx="187.90" cy="410.90" r="3.25" fill="#f80a0a"/>
<circle cx="213.44" cy="407.30" r="3.25" fill="#f80a0a"/>
<polygon points="55.35,355.75 55.95,356.96 57.30,356.88 56.55,358.00 57.30,359.12 55.95,359.04 55.35,360.25 54.75,359.04 53.40,359.12 54.15,358.00 53.40,356.88 54.75,356.96" fill="#111" stroke="#111" stroke-width="0.5" stroke-linejoin="round"/>
<polygon points="60.20,355.75 60.80,356.96 62.15,356.88 61.40,358.00 62.15,359.12 60.80,359.04 60.20,360.25 59.60,359.04 58.25,359.12 59.00,358.00 58.25,356.88 59.60,356.96" fill="#111" stroke="#111" stroke-width="0.5" stroke-linejoin="round"/>
<polygon points="65.05,355.75 65.65,356.96 67.00,356.88 66.25,358.00 67.00,359.12 65.65,359.04 65.05,360.25 64.45,359.04 63.10,359.12 63.85,358.00 63.10,356.88 64.45,356.96" fill="#111" stroke="#111" stroke-width="0.5" stroke-linejoin="round"/>
<polygon points="85.74,367.75 86.34,368.96 87.69,368.88 86.94,370.00 87.69,371.12 86.34,371.04 85.74,372.25 85.14,371.04 83.79,371.12 84.54,370.00 83.79,368.88 85.14,368.96" fill="#111" stroke="#111" stroke-width="0.5" stroke-linejoin="round"/>
<polygon points="104.00,311.25 104.60,312.46 105.95,312.38 105.20,313.50 105.95,314.62 104.60,314.54 104.00,315.75 103.41,314.54 102.06,314.62 102.80,313.50 102.06,312.38 103.41,312.46" fill="#111" stroke="#111" stroke-width="0.5" stroke-linejoin="round"/>
<polygon points="108.86,311.25 109.45,312.46 110.80,312.38 110.06,313.50 110.80,314.62 109.45,314.54 108.86,315.75 108.26,314.54 106.91,314.62 107.66,313.50 106.91,312.38 108.26,312.46" fill="#111" stroke="#111" stroke-width="0.5" stroke-linejoin="round"/>
<polygon points="113.70,311.25 114.30,312.46 115.65,312.38 114.91,313.50 115.65,314.62 114.30,314.54 113.70,315.75 113.11,314.54 111.76,314.62 112.50,313.50 111.76,312.38 113.11,312.46" fill="#111" stroke="#111" stroke-width="0.5" stroke-linejoin="round"/>
<polygon points="118.56,311.25 119.16,312.46 120.50,312.38 119.76,313.50 120.50,314.62 119.16,314.54 118.56,315.75 117.96,314.54 116.61,314.62 117.36,313.50 116.61,312.38 117.96,312.46" fill="#111" stroke="#111" stroke-width="0.5" stroke-linejoin="round"/>
<polygon points="157.51,342.55 158.11,343.76 159.46,343.68 158.71,344.80 159.46,345.93 158.11,345.84 157.51,347.05 156.91,345.84 155.56,345.93 156.31,344.80 155.56,343.68 156.91,343.76" fill="#111" stroke="#111" stroke-width="0.5" stroke-linejoin="round"/>
<polygon points="162.36,342.55 162.96,343.76 164.31,343.68 163.56,344.80 164.31,345.93 162.96,345.84 162.36,347.05 161.76,345.84 160.41,345.93 161.16,344.80 160.41,343.68 161.76,343.76" fill="#111" stroke="#111" stroke-width="0.5" stroke-linejoin="round"/>
<polygon points="167.21,342.55 167.81,343.76 169.16,343.68 168.41,344.80 169.16,345.93 167.81,345.84 167.21,347.05 166.61,345.84 165.26,345.93 166.01,344.80 165.26,343.68 166.61,343.76" fill="#111" stroke="#111" stroke-width="0.5" stroke-linejoin="round"/>
<polygon points="183.05,330.75 183.65,331.96 185.00,331.88 184.25,333.00 185.00,334.12 183.65,334.04 183.05,335.25 182.45,334.04 181.10,334.12 181.85,333.00 181.10,331.88 182.45,331.96" fill="#111" stroke="#111" stroke-width="0.5" stroke-linejoin="round"/>
<polygon points="187.90,330.75 188.50,331.96 189.85,331.88 189.10,333.00 189.85,334.12 188.50,334.04 187.90,335.25 187.30,334.04 185.95,334.12 186.70,333.00 185.95,331.88 187.30,331.96" fill="#111" stroke="#111" stroke-width="0.5" stroke-linejoin="round"/>
<polygon points="192.75,330.75 193.35,331.96 194.70,331.88 193.95,333.00 194.70,334.12 193.35,334.04 192.75,335.25 192.15,334.04 190.80,334.12 191.55,333.00 190.80,331.88 192.15,331.96" fill="#111" stroke="#111" stroke-width="0.5" stroke-linejoin="round"/>
<polygon points="208.59,323.75 209.19,324.96 210.54,324.88 209.79,326.00 210.54,327.12 209.19,327.04 208.59,328.25 207.99,327.04 206.64,327.12 207.39,326.00 206.64,324.88 207.99,324.96" fill="#111" stroke="#111" stroke-width="0.5" stroke-linejoin="round"/>
<polygon points="213.44,323.75 214.04,324.96 215.39,324.88 214.64,326.00 215.39,327.12 214.04,327.04 213.44,328.25 212.84,327.04 211.49,327.12 212.24,326.00 211.49,324.88 212.84,324.96" fill="#111" stroke="#111" stroke-width="0.5" stroke-linejoin="round"/>
<polygon points="218.29,323.75 218.89,324.96 220.24,324.88 219.49,326.00 220.24,327.12 218.89,327.04 218.29,328.25 217.69,327.04 216.34,327.12 217.09,326.00 216.34,324.88 217.69,324.96" fill="#111" stroke="#111" stroke-width="0.5" stroke-linejoin="round"/>
<line x1="382.70" y1="293.90" x2="382.70" y2="458.75" stroke="#0a0a0a" stroke-width="1.5" />
<line x1="381.95" y1="458.00" x2="561.70" y2="458.00" stroke="#0a0a0a" stroke-width="1.5" />
<line x1="377.40" y1="458.00" x2="382.70" y2="458.00" stroke="#0a0a0a" stroke-width="1.1" />
<text transform="translate(376.80,461.50) scale(0.9490,1)" font-family="'Liberation Sans', sans-serif" font-size="9.8" font-weight="bold" text-anchor="end" fill="#000" stroke="#000" stroke-width="0.25">0.0</text>
<line x1="377.40" y1="403.30" x2="382.70" y2="403.30" stroke="#0a0a0a" stroke-width="1.1" />
<text transform="translate(376.80,406.80) scale(0.9490,1)" font-family="'Liberation Sans', sans-serif" font-size="9.8" font-weight="bold" text-anchor="end" fill="#000" stroke="#000" stroke-width="0.25">0.5</text>
<line x1="377.40" y1="348.60" x2="382.70" y2="348.60" stroke="#0a0a0a" stroke-width="1.1" />
<text transform="translate(376.80,352.10) scale(0.9490,1)" font-family="'Liberation Sans', sans-serif" font-size="9.8" font-weight="bold" text-anchor="end" fill="#000" stroke="#000" stroke-width="0.25">1.0</text>
<line x1="377.40" y1="293.90" x2="382.70" y2="293.90" stroke="#0a0a0a" stroke-width="1.1" />
<text transform="translate(376.80,297.40) scale(0.9490,1)" font-family="'Liberation Sans', sans-serif" font-size="9.8" font-weight="bold" text-anchor="end" fill="#000" stroke="#000" stroke-width="0.25">1.5</text>
<line x1="395.00" y1="458.00" x2="395.00" y2="463.00" stroke="#0a0a0a" stroke-width="1.1" />
<text transform="translate(395.00,472.50) scale(0.9490,1)" font-family="'Liberation Sans', sans-serif" font-size="9.8" font-weight="bold" text-anchor="middle" fill="#000" stroke="#000" stroke-width="0.25">4</text>
<line x1="420.57" y1="458.00" x2="420.57" y2="463.00" stroke="#0a0a0a" stroke-width="1.1" />
<text transform="translate(420.57,472.50) scale(0.9490,1)" font-family="'Liberation Sans', sans-serif" font-size="9.8" font-weight="bold" text-anchor="middle" fill="#000" stroke="#000" stroke-width="0.25">8</text>
<line x1="446.14" y1="458.00" x2="446.14" y2="463.00" stroke="#0a0a0a" stroke-width="1.1" />
<text transform="translate(446.14,472.50) scale(0.9490,1)" font-family="'Liberation Sans', sans-serif" font-size="9.8" font-weight="bold" text-anchor="middle" fill="#000" stroke="#000" stroke-width="0.25">12</text>
<line x1="471.71" y1="458.00" x2="471.71" y2="463.00" stroke="#0a0a0a" stroke-width="1.1" />
<text transform="translate(471.71,472.50) scale(0.9490,1)" font-family="'Liberation Sans', sans-serif" font-size="9.8" font-weight="bold" text-anchor="middle" fill="#000" stroke="#000" stroke-width="0.25">16</text>
<line x1="497.28" y1="458.00" x2="497.28" y2="463.00" stroke="#0a0a0a" stroke-width="1.1" />
<text transform="translate(497.28,472.50) scale(0.9490,1)" font-family="'Liberation Sans', sans-serif" font-size="9.8" font-weight="bold" text-anchor="middle" fill="#000" stroke="#000" stroke-width="0.25">20</text>
<line x1="522.85" y1="458.00" x2="522.85" y2="463.00" stroke="#0a0a0a" stroke-width="1.1" />
<text transform="translate(522.85,472.50) scale(0.9490,1)" font-family="'Liberation Sans', sans-serif" font-size="9.8" font-weight="bold" text-anchor="middle" fill="#000" stroke="#000" stroke-width="0.25">24</text>
<line x1="548.42" y1="458.00" x2="548.42" y2="463.00" stroke="#0a0a0a" stroke-width="1.1" />
<text transform="translate(548.42,472.50) scale(0.9490,1)" font-family="'Liberation Sans', sans-serif" font-size="9.8" font-weight="bold" text-anchor="middle" fill="#000" stroke="#000" stroke-width="0.25">48</text>
<text transform="translate(439.70,267.90) scale(0.8900,1.0000)" font-family="'Liberation Serif', serif" font-size="12.4" font-weight="bold" text-anchor="middle" fill="#000" stroke="#000" stroke-width="0.35" >RBX1</text>
<text transform="translate(505.00,296.00)" font-family="'Liberation Serif', serif" font-size="9.9" font-weight="normal" text-anchor="middle" fill="#000" stroke="#000" stroke-width="0.12" >Time <tspan font-style='italic'>p</tspan> = 0.002</text>
<text transform="translate(505.00,307.90)" font-family="'Liberation Serif', serif" font-size="9.9" font-weight="normal" text-anchor="middle" fill="#000" stroke="#000" stroke-width="0.12" >Infection <tspan font-style='italic'>p</tspan> &lt; 0.001</text>
<text transform="translate(505.00,319.70)" font-family="'Liberation Serif', serif" font-size="9.9" font-weight="normal" text-anchor="middle" fill="#000" stroke="#000" stroke-width="0.12" >Time × infection <tspan font-style='italic'>p</tspan> = 0.0016</text>
<text x="0" y="0" transform="translate(354.30,375.90) rotate(-90) scale(0.8980,1)" font-family="'Liberation Serif', serif" font-size="11.1" font-weight="bold" text-anchor="middle" dominant-baseline="central" fill="#000" stroke="#000" stroke-width="0.45">Relative expression levels</text>
<text transform="translate(472.20,488.00) scale(0.9650,1.0000)" font-family="'Liberation Serif', serif" font-size="10.2" font-weight="bold" text-anchor="middle" fill="#000" stroke="#000" stroke-width="0.3" >Time (h)</text>
<line x1="590.00" y1="323.00" x2="602.70" y2="323.00" stroke="#f07070" stroke-width="0.9" />
<circle cx="596.35" cy="323.00" r="3.0" fill="#f80a0a"/>
<text transform="translate(609.90,326.30)" font-family="'Liberation Serif', serif" font-size="9.6" font-weight="normal" text-anchor="start" fill="#000" stroke="#000" stroke-width="0.12" >Control group</text>
<line x1="590.00" y1="339.50" x2="602.70" y2="339.50" stroke="#777" stroke-width="0.9" />
<rect x="593.35" y="336.00" width="6.0" height="6.0" fill="#000"/>
<text transform="translate(612.10,342.80)" font-family="'Liberation Serif', serif" font-size="9.6" font-weight="normal" text-anchor="start" fill="#000" stroke="#000" stroke-width="0.12" >Infection group</text>
<line x1="395.00" y1="398.00" x2="395.00" y2="422.70" stroke="#2a2a2a" stroke-width="1.0" />
<line x1="392.20" y1="398.00" x2="397.80" y2="398.00" stroke="#2a2a2a" stroke-width="1.0" />
<line x1="392.20" y1="422.70" x2="397.80" y2="422.70" stroke="#2a2a2a" stroke-width="1.0" />
<line x1="420.57" y1="376.50" x2="420.57" y2="425.60" stroke="#2a2a2a" stroke-width="1.0" />
<line x1="417.77" y1="376.50" x2="423.37" y2="376.50" stroke="#2a2a2a" stroke-width="1.0" />
<line x1="417.77" y1="425.60" x2="423.37" y2="425.60" stroke="#2a2a2a" stroke-width="1.0" />
<line x1="446.14" y1="383.60" x2="446.14" y2="394.90" stroke="#2a2a2a" stroke-width="1.0" />
<line x1="443.34" y1="383.60" x2="448.94" y2="383.60" stroke="#2a2a2a" stroke-width="1.0" />
<line x1="443.34" y1="394.90" x2="448.94" y2="394.90" stroke="#2a2a2a" stroke-width="1.0" />
<line x1="471.71" y1="346.00" x2="471.71" y2="361.60" stroke="#2a2a2a" stroke-width="1.0" />
<line x1="468.91" y1="346.00" x2="474.51" y2="346.00" stroke="#2a2a2a" stroke-width="1.0" />
<line x1="468.91" y1="361.60" x2="474.51" y2="361.60" stroke="#2a2a2a" stroke-width="1.0" />
<line x1="497.28" y1="370.60" x2="497.28" y2="395.00" stroke="#2a2a2a" stroke-width="1.0" />
<line x1="494.48" y1="370.60" x2="500.08" y2="370.60" stroke="#2a2a2a" stroke-width="1.0" />
<line x1="494.48" y1="395.00" x2="500.08" y2="395.00" stroke="#2a2a2a" stroke-width="1.0" />
<line x1="522.85" y1="388.80" x2="522.85" y2="397.20" stroke="#2a2a2a" stroke-width="1.0" />
<line x1="520.05" y1="388.80" x2="525.65" y2="388.80" stroke="#2a2a2a" stroke-width="1.0" />
<line x1="520.05" y1="397.20" x2="525.65" y2="397.20" stroke="#2a2a2a" stroke-width="1.0" />
<line x1="548.42" y1="394.40" x2="548.42" y2="409.80" stroke="#2a2a2a" stroke-width="1.0" />
<line x1="545.62" y1="394.40" x2="551.22" y2="394.40" stroke="#2a2a2a" stroke-width="1.0" />
<line x1="545.62" y1="409.80" x2="551.22" y2="409.80" stroke="#2a2a2a" stroke-width="1.0" />
<polyline points="395.00,410.50 420.57,401.10 446.14,389.10 471.71,353.80 497.28,382.60 522.85,393.00 548.42,400.60" fill="none" stroke="#222" stroke-width="1.0"/>
<line x1="395.00" y1="423.20" x2="395.00" y2="433.30" stroke="#e02c2c" stroke-width="0.9" />
<line x1="392.20" y1="423.20" x2="397.80" y2="423.20" stroke="#e02c2c" stroke-width="0.9" />
<line x1="392.20" y1="433.30" x2="397.80" y2="433.30" stroke="#e02c2c" stroke-width="0.9" />
<line x1="420.57" y1="422.50" x2="420.57" y2="438.10" stroke="#e02c2c" stroke-width="0.9" />
<line x1="417.77" y1="422.50" x2="423.37" y2="422.50" stroke="#e02c2c" stroke-width="0.9" />
<line x1="417.77" y1="438.10" x2="423.37" y2="438.10" stroke="#e02c2c" stroke-width="0.9" />
<line x1="471.71" y1="393.00" x2="471.71" y2="428.90" stroke="#e02c2c" stroke-width="0.9" />
<line x1="468.91" y1="393.00" x2="474.51" y2="393.00" stroke="#e02c2c" stroke-width="0.9" />
<line x1="468.91" y1="428.90" x2="474.51" y2="428.90" stroke="#e02c2c" stroke-width="0.9" />
<line x1="497.28" y1="382.60" x2="497.28" y2="421.80" stroke="#e02c2c" stroke-width="0.9" />
<line x1="494.48" y1="382.60" x2="500.08" y2="382.60" stroke="#e02c2c" stroke-width="0.9" />
<line x1="494.48" y1="421.80" x2="500.08" y2="421.80" stroke="#e02c2c" stroke-width="0.9" />
<line x1="522.85" y1="380.40" x2="522.85" y2="409.00" stroke="#e02c2c" stroke-width="0.9" />
<line x1="520.05" y1="380.40" x2="525.65" y2="380.40" stroke="#e02c2c" stroke-width="0.9" />
<line x1="520.05" y1="409.00" x2="525.65" y2="409.00" stroke="#e02c2c" stroke-width="0.9" />
<line x1="548.42" y1="377.60" x2="548.42" y2="400.00" stroke="#e02c2c" stroke-width="0.9" />
<line x1="545.62" y1="377.60" x2="551.22" y2="377.60" stroke="#e02c2c" stroke-width="0.9" />
<line x1="545.62" y1="400.00" x2="551.22" y2="400.00" stroke="#e02c2c" stroke-width="0.9" />
<polyline points="395.00,428.70 420.57,430.90 446.14,429.90 471.71,411.20 497.28,400.60 522.85,394.40 548.42,388.80" fill="none" stroke="#e02c2c" stroke-width="0.9"/>
<rect x="391.90" y="407.40" width="6.2" height="6.2" fill="#000"/>
<rect x="417.47" y="398.00" width="6.2" height="6.2" fill="#000"/>
<rect x="443.04" y="386.00" width="6.2" height="6.2" fill="#000"/>
<rect x="468.61" y="350.70" width="6.2" height="6.2" fill="#000"/>
<rect x="494.18" y="379.50" width="6.2" height="6.2" fill="#000"/>
<rect x="519.75" y="389.90" width="6.2" height="6.2" fill="#000"/>
<rect x="545.32" y="397.50" width="6.2" height="6.2" fill="#000"/>
<circle cx="395.00" cy="428.70" r="3.25" fill="#f80a0a"/>
<circle cx="420.57" cy="430.90" r="3.25" fill="#f80a0a"/>
<circle cx="446.14" cy="429.90" r="3.25" fill="#f80a0a"/>
<circle cx="471.71" cy="411.20" r="3.25" fill="#f80a0a"/>
<circle cx="497.28" cy="400.60" r="3.25" fill="#f80a0a"/>
<circle cx="522.85" cy="394.40" r="3.25" fill="#f80a0a"/>
<circle cx="548.42" cy="388.80" r="3.25" fill="#f80a0a"/>
<polygon points="420.57,367.05 421.17,368.26 422.52,368.18 421.77,369.30 422.52,370.43 421.17,370.34 420.57,371.55 419.97,370.34 418.62,370.43 419.37,369.30 418.62,368.18 419.97,368.26" fill="#111" stroke="#111" stroke-width="0.5" stroke-linejoin="round"/>
<polygon points="441.29,367.75 441.89,368.96 443.24,368.88 442.49,370.00 443.24,371.12 441.89,371.04 441.29,372.25 440.69,371.04 439.34,371.12 440.09,370.00 439.34,368.88 440.69,368.96" fill="#111" stroke="#111" stroke-width="0.5" stroke-linejoin="round"/>
<polygon points="446.14,367.75 446.74,368.96 448.09,368.88 447.34,370.00 448.09,371.12 446.74,371.04 446.14,372.25 445.54,371.04 444.19,371.12 444.94,370.00 444.19,368.88 445.54,368.96" fill="#111" stroke="#111" stroke-width="0.5" stroke-linejoin="round"/>
<polygon points="450.99,367.75 451.59,368.96 452.94,368.88 452.19,370.00 452.94,371.12 451.59,371.04 450.99,372.25 450.39,371.04 449.04,371.12 449.79,370.00 449.04,368.88 450.39,368.96" fill="#111" stroke="#111" stroke-width="0.5" stroke-linejoin="round"/>
<polygon points="466.86,335.55 467.46,336.76 468.81,336.68 468.06,337.80 468.81,338.93 467.46,338.84 466.86,340.05 466.26,338.84 464.91,338.93 465.66,337.80 464.91,336.68 466.26,336.76" fill="#111" stroke="#111" stroke-width="0.5" stroke-linejoin="round"/>
<polygon points="471.71,335.55 472.31,336.76 473.66,336.68 472.91,337.80 473.66,338.93 472.31,338.84 471.71,340.05 471.11,338.84 469.76,338.93 470.51,337.80 469.76,336.68 471.11,336.76" fill="#111" stroke="#111" stroke-width="0.5" stroke-linejoin="round"/>
<polygon points="476.56,335.55 477.16,336.76 478.51,336.68 477.76,337.80 478.51,338.93 477.16,338.84 476.56,340.05 475.96,338.84 474.61,338.93 475.36,337.80 474.61,336.68 475.96,336.76" fill="#111" stroke="#111" stroke-width="0.5" stroke-linejoin="round"/>
<rect x="385.1" y="108.8" width="4" height="1.7" fill="#fff"/>
<rect x="428" y="108.4" width="12" height="2.4" fill="#fff"/>
<line x1="384.30" y1="108.20" x2="389.90" y2="108.20" stroke="#0a0a0a" stroke-width="1.1" />
<line x1="384.30" y1="111.00" x2="389.90" y2="111.00" stroke="#0a0a0a" stroke-width="1.1" />
<text transform="translate(381.20,112.30) scale(0.9490,1)" font-family="'Liberation Sans', sans-serif" font-size="9.8" font-weight="bold" text-anchor="end" fill="#000" stroke="#000" stroke-width="0.25">1</text>
</g>
</svg>
</body></html>
